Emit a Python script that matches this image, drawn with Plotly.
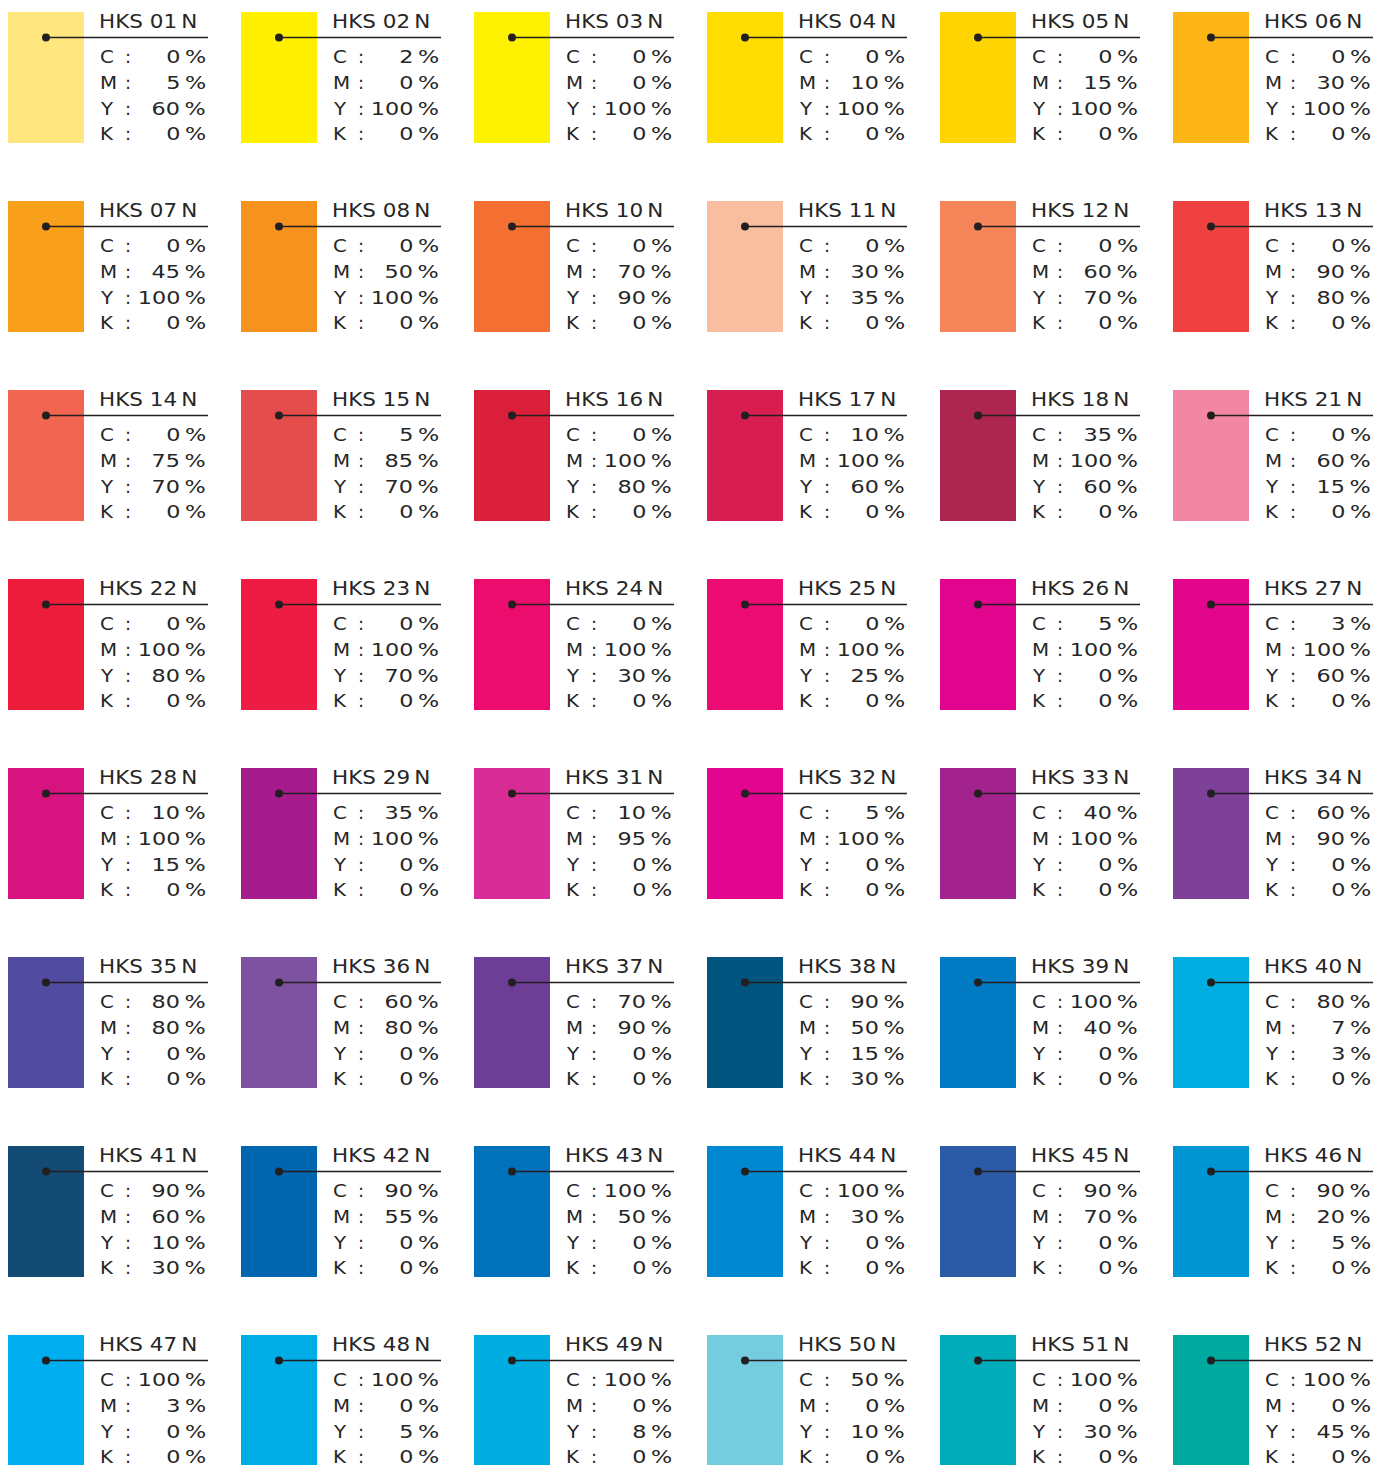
import json
import plotly.graph_objects as go

names = ["01", "02", "03", "04", "05", "06",
         "07", "08", "10", "11", "12", "13",
         "14", "15", "16", "17", "18", "21",
         "22", "23", "24", "25", "26", "27",
         "28", "29", "31", "32", "33", "34",
         "35", "36", "37", "38", "39", "40",
         "41", "42", "43", "44", "45", "46",
         "47", "48", "49", "50", "51", "52"]

swatch_colors = ["#FFE67F", "#FFF000", "#FFF200", "#FFDD00", "#FFD400", "#FDB515",
                 "#F9A01B", "#F7921E", "#F37032", "#F9BDA0", "#F68659", "#EF4240",
                 "#F26651", "#E44D4C", "#DA1F3A", "#D81E51", "#AC2650", "#F287A3",
                 "#EE1C3B", "#EE1B42", "#EC0C6E", "#EC0B73", "#E1058E", "#E3068C",
                 "#D6137E", "#A71C8C", "#D82B95", "#E1068D", "#A2228E", "#7D4198",
                 "#514CA0", "#7D529F", "#6D3E96", "#00547E", "#007BC3", "#00AEE1",
                 "#144B75", "#0066B0", "#0071BB", "#0088D0", "#2B5BA7", "#0096D3",
                 "#00ADEF", "#00ADE7", "#00ADE0", "#75CCDF", "#00ACB9", "#00A99E"]

C = [0, 2, 0, 0, 0, 0,
     0, 0, 0, 0, 0, 0,
     0, 5, 0, 10, 35, 0,
     0, 0, 0, 0, 5, 3,
     10, 35, 10, 5, 40, 60,
     80, 60, 70, 90, 100, 80,
     90, 90, 100, 100, 90, 90,
     100, 100, 100, 50, 100, 100]
M = [5, 0, 0, 10, 15, 30,
     45, 50, 70, 30, 60, 90,
     75, 85, 100, 100, 100, 60,
     100, 100, 100, 100, 100, 100,
     100, 100, 95, 100, 100, 90,
     80, 80, 90, 50, 40, 7,
     60, 55, 50, 30, 70, 20,
     3, 0, 0, 0, 0, 0]
Y = [60, 100, 100, 100, 100, 100,
     100, 100, 90, 35, 70, 80,
     70, 70, 80, 60, 60, 15,
     80, 70, 30, 25, 0, 60,
     15, 0, 0, 0, 0, 0,
     0, 0, 0, 15, 0, 3,
     10, 0, 0, 0, 0, 5,
     0, 5, 8, 10, 30, 45]
K = [0, 0, 0, 0, 0, 0,
     0, 0, 0, 0, 0, 0,
     0, 0, 0, 0, 0, 0,
     0, 0, 0, 0, 0, 0,
     0, 0, 0, 0, 0, 0,
     0, 0, 0, 30, 0, 0,
     30, 0, 0, 0, 0, 0,
     0, 0, 0, 0, 0, 0]

channel_labels = ["C", "M", "Y", "K"]

# layout constants (pixels)
W, H = 1390, 1465
NCOL = 6
COL_PITCH, ROW_PITCH = 233, 189
X0, Y0 = 8, 12
SW_W, SW_H = 76, 131
TXT = "#262626"
FONT = "DejaVu Sans"
THIN = "\u2009"

fig = go.Figure()
shapes = []
annotations = []
xscales = []
dot_x, dot_y = [], []


def add_text(x, y, text, anchor, size, sx):
    annotations.append(dict(x=x, y=y, xref="x", yref="y", text=text,
                            showarrow=False, xanchor=anchor, yanchor="middle",
                            font=dict(family=FONT, size=size, color=TXT)))
    xscales.append(sx)


for i, name in enumerate(names):
    col, row = i % NCOL, i // NCOL
    x0 = X0 + COL_PITCH * col
    y0 = Y0 + ROW_PITCH * row
    shapes.append(dict(type="rect", xref="x", yref="y", x0=x0, x1=x0 + SW_W,
                       y0=y0, y1=y0 + SW_H, fillcolor=swatch_colors[i],
                       line=dict(width=0), layer="below"))
    shapes.append(dict(type="line", xref="x", yref="y", x0=x0 + 38, x1=x0 + 200,
                       y0=y0 + 25.5, y1=y0 + 25.5, line=dict(color="#231F20", width=1.4)))
    dot_x.append(x0 + 38)
    dot_y.append(y0 + 25.5)
    add_text(x0 + 89, y0 + 9, "HKS " + name + THIN + "N", "left", 19.2, 1.12)
    vals = [C[i], M[i], Y[i], K[i]]
    for k, lab in enumerate(channel_labels):
        yc = y0 + 44.8 + 25.6 * k
        add_text(x0 + 90, yc, lab, "left", 18, 1.1)
        add_text(x0 + 119.5, yc, ":", "center", 18, 1.0)
        add_text(x0 + 200.4, yc, str(vals[k]) + THIN + "%", "right", 18, 1.24)

fig.add_trace(go.Scatter(x=dot_x, y=dot_y, mode="markers",
                         marker=dict(size=8, color="#231F20"),
                         hoverinfo="skip", showlegend=False))

fig.update_layout(width=W, height=H, margin=dict(l=0, r=0, t=0, b=0),
                  paper_bgcolor="white", plot_bgcolor="white",
                  shapes=shapes, annotations=annotations, showlegend=False)
fig.update_xaxes(range=[0, W], visible=False, fixedrange=True)
fig.update_yaxes(range=[H, 0], visible=False, fixedrange=True)

post = """
document.body.style.margin='0';
document.body.style.overflow='hidden';
var gd = document.getElementById('{plot_id}');
var SX = %s;
function widen(){
  var groups = gd.querySelectorAll('g.annotation');
  groups.forEach(function(g){
    var idx = +g.getAttribute('data-index');
    var ann = gd.layout.annotations[idx];
    var s = SX[idx];
    if(!ann || !s || s === 1) return;
    var t = g.querySelector('text.annotation-text');
    if(!t || t.getAttribute('data-sx')) return;
    var bb = t.getBBox();
    var px = ann.xanchor === 'right' ? bb.x + bb.width : (ann.xanchor === 'left' ? bb.x : bb.x + bb.width / 2);
    t.setAttribute('transform', 'translate(' + px + ',0) scale(' + s + ',1) translate(' + (-px) + ',0)');
    t.setAttribute('data-sx', '1');
  });
}
widen();
""" % json.dumps(xscales)

fig.write_html("out.html", config={"displayModeBar": False, "staticPlot": True},
               post_script=post)
